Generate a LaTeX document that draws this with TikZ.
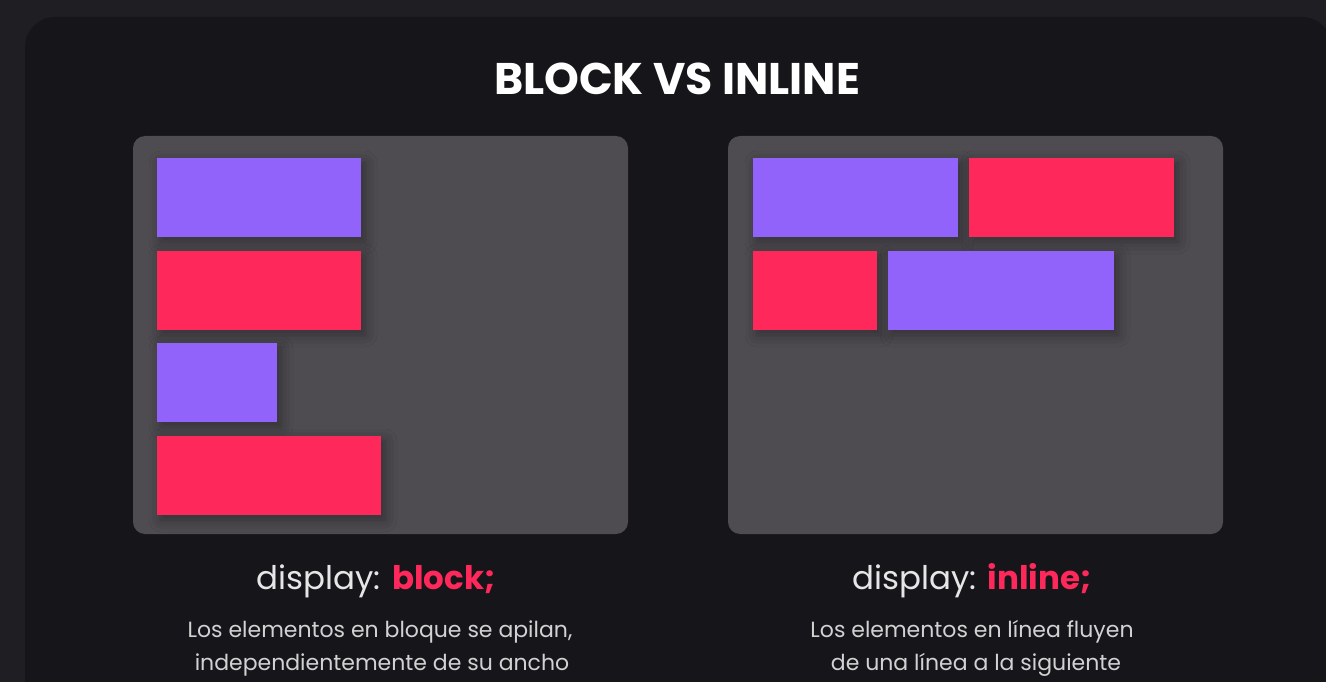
\documentclass[tikz,border=0pt]{standalone}
\usepackage{fontspec}
\setmainfont{Poppins}
\usetikzlibrary{shadows.blur}

\definecolor{outerbg}{HTML}{1F1E22}
\definecolor{stage}{HTML}{161519}
\definecolor{panel}{HTML}{4E4B51}
\definecolor{violet}{HTML}{9163FB}
\definecolor{rose}{HTML}{FE285B}
\definecolor{caption}{HTML}{E6E6E6}
\definecolor{body}{HTML}{D2D2D2}

\tikzset{
  item/.style={draw=none, inner sep=0pt, outer sep=0pt, anchor=north west,
    blur shadow={shadow xshift=4pt, shadow yshift=-5pt,
                 shadow blur radius=12pt, shadow opacity=35}},
  vbox/.style={item, fill=violet},
  rbox/.style={item, fill=rose},
  container/.style={fill=panel, rounded corners=12pt},
  heading/.style={anchor=base, text=white, font=\fontsize{44.3}{48}\selectfont\bfseries},
  label/.style={anchor=base, text=caption, font=\fontsize{32.5}{36}\selectfont},
  note/.style={anchor=base, text=body, font=\fontsize{22}{26}\selectfont},
}

\begin{document}
\begin{tikzpicture}[x=1pt, y=-1pt]
  % page and stage
  \fill[outerbg] (0,0) rectangle (1326,682);
  \useasboundingbox (0,0) rectangle (1326,682);
  \fill[stage, rounded corners=30pt] (25,17) rectangle (1332,720);

  \node[heading] (title) at (677,95) {BLOCK VS INLINE};

  % left container: block elements stack
  \fill[container] (133,136) rectangle (628,534);
  \node[vbox, minimum width=204pt, minimum height=79pt] (b1) at (157,158) {};
  \node[rbox, minimum width=204pt, minimum height=79pt] (b2) at (157,251) {};
  \node[vbox, minimum width=120pt, minimum height=79pt] (b3) at (157,343) {};
  \node[rbox, minimum width=224pt, minimum height=79pt] (b4) at (157,436) {};

  % right container: inline elements flow
  \fill[container] (728,136) rectangle (1223,534);
  \node[vbox, minimum width=205pt, minimum height=79pt] (i1) at (753,158) {};
  \node[rbox, minimum width=205pt, minimum height=79pt] (i2) at (969,158) {};
  \node[rbox, minimum width=124pt, minimum height=79pt] (i3) at (753,251) {};
  \node[vbox, minimum width=226pt, minimum height=79pt] (i4) at (888,251) {};

  % captions
  \node[label] (lblock) at (376,589) {display: \textcolor{rose}{\textbf{block;}}};
  \node[note] (nb1) at (380,637) {Los elementos en bloque se apilan,};
  \node[note] (nb2) at (382,670) {independientemente de su ancho};

  \node[label] (linline) at (972,589) {display: \textcolor{rose}{\textbf{inline;}}};
  \node[note] (ni1) at (972,637) {Los elementos en línea fluyen};
  \node[note] (ni2) at (976,670) {de una línea a la siguiente};
\end{tikzpicture}
\end{document}
